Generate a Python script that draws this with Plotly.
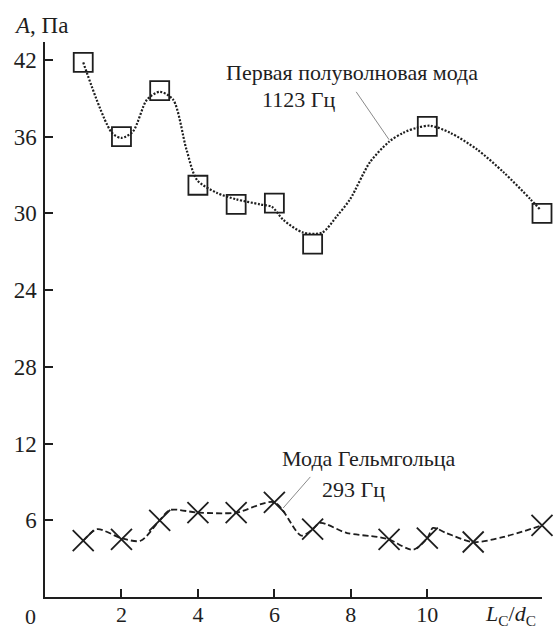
import plotly.graph_objects as go

# Measured amplitudes, first half-wave mode (1123 Hz)
half_wave_x = [1, 2, 3, 4, 5, 6, 7, 10, 13]
half_wave_a = [41.8, 36.0, 39.6, 32.2, 30.7, 30.8, 27.6, 36.8, 30.0]

# Smoothed trend drawn through the half-wave data
half_wave_curve_x = [1.0, 1.75, 2.0, 2.3, 2.67, 3.0, 3.35, 3.7, 3.98, 4.5, 5.0, 5.63, 5.94,
                     6.23, 6.75, 7.25, 7.64, 7.98, 8.5, 9.0, 9.37, 9.74, 10.08, 10.6,
                     11.3, 12.0, 12.7, 12.95]
half_wave_curve_a = [41.8, 36.3, 35.9, 36.4, 38.9, 39.5, 38.9, 35.0, 32.6, 31.6, 31.1, 30.7, 30.5,
                     29.5, 28.5, 28.5, 29.8, 31.1, 34.0, 35.6, 36.3, 36.7, 36.85, 36.3,
                     35.0, 33.2, 31.1, 30.3]

# Measured amplitudes, Helmholtz mode (293 Hz)
helm_x = [1, 2, 3, 4, 5, 6, 7, 9, 10, 11.2, 13]
helm_a = [4.4, 4.5, 6.0, 6.6, 6.6, 7.4, 5.3, 4.5, 4.6, 4.3, 5.6]

# Smoothed trend drawn through the Helmholtz data
helm_curve_x = [1.0, 1.36, 2.0, 2.5, 3.0, 3.27, 4.0, 5.0, 6.0, 6.7, 7.0, 7.2, 7.9, 8.7,
                9.0, 9.63, 10.0, 10.15, 10.5, 11.2, 12.0, 13.0]
helm_curve_a = [4.4, 5.3, 4.6, 4.4, 6.0, 6.8, 6.6, 6.6, 7.4, 4.8, 5.3, 5.8, 5.0, 4.7,
                4.5, 3.7, 4.6, 5.4, 5.0, 4.3, 4.7, 5.6]

y_tick_vals = [6, 12, 18, 24, 30, 36, 42]
y_tick_text = ["6", "12", "28", "24", "30", "36", "42"]
x_tick_vals = [2, 4, 6, 8, 10]
x_tick_text = ["2", "4", "6", "8", "10"]

INK = "#1e1e1e"
SERIF = "Liberation Serif"

W, H = 557, 629
ML, MR, MT, MB = 45, 15, 42, 32


def px_to_paper(px, py):
    return (px - ML) / (W - ML - MR), (H - MB - py) / (H - MT - MB)


fig = go.Figure()

fig.add_trace(go.Scatter(
    x=half_wave_curve_x, y=half_wave_curve_a, mode="lines",
    line=dict(color=INK, width=2.2, dash="2px,1.6px", shape="spline", smoothing=0.8),
    hoverinfo="skip", showlegend=False, cliponaxis=False))
fig.add_trace(go.Scatter(
    x=half_wave_x, y=half_wave_a, mode="markers",
    marker=dict(symbol="square-open", size=19, color=INK, line=dict(width=1.8, color=INK)),
    showlegend=False, cliponaxis=False))

fig.add_trace(go.Scatter(
    x=helm_curve_x, y=helm_curve_a, mode="lines",
    line=dict(color=INK, width=1.8, dash="6px,3px", shape="spline", smoothing=0.8),
    hoverinfo="skip", showlegend=False, cliponaxis=False))
fig.add_trace(go.Scatter(
    x=helm_x, y=helm_a, mode="markers",
    marker=dict(symbol="x-thin-open", size=21, color=INK, line=dict(width=1.8, color=INK)),
    showlegend=False, cliponaxis=False))

# Leader lines from labels to curves
fig.add_shape(type="line", x0=8.14, y0=39.5, x1=9.0, y1=35.76,
              line=dict(color="#8a8a8a", width=1))
fig.add_shape(type="line", x0=6.94, y0=9.39, x1=6.23, y1=6.96,
              line=dict(color="#8a8a8a", width=1))

label_font = dict(family=SERIF, size=22, color=INK)
fig.add_annotation(text="Первая полуволновая мода", x=8.03, y=41.0, xref="x", yref="y",
                   showarrow=False, font=label_font)
fig.add_annotation(text="1123 Гц", x=6.64, y=38.9, xref="x", yref="y",
                   showarrow=False, font=label_font)
fig.add_annotation(text="Мода Гельмгольца", x=8.47, y=10.8, xref="x", yref="y",
                   showarrow=False, font=label_font)
fig.add_annotation(text="293 Гц", x=8.08, y=8.4, xref="x", yref="y",
                   showarrow=False, font=label_font)

axis_font = dict(family=SERIF, size=23, color=INK)
ax, ay = px_to_paper(12, 25)
fig.add_annotation(text="<i>A</i>, Па", x=ax, y=ay, xref="paper", yref="paper",
                   showarrow=False, font=axis_font, xanchor="left", yanchor="middle")
lx, ly = px_to_paper(510, 615)
fig.add_annotation(text="<i>L</i><sub>C</sub>/<i>d</i><sub>C</sub>", x=lx, y=ly,
                   xref="paper", yref="paper",
                   showarrow=False, font=dict(family=SERIF, size=22, color=INK),
                   xanchor="center", yanchor="middle")
zx, zy = px_to_paper(30, 616)
fig.add_annotation(text="0", x=zx, y=zy, xref="paper", yref="paper",
                   showarrow=False, font=dict(family=SERIF, size=22, color=INK),
                   xanchor="center", yanchor="middle")

fig.update_layout(
    width=W, height=H,
    margin=dict(l=ML, r=MR, t=MT, b=MB, autoexpand=False),
    paper_bgcolor="white", plot_bgcolor="white",
    showlegend=False,
    font=dict(family=SERIF, color=INK),
    xaxis=dict(range=[0, 13.0], tickvals=x_tick_vals, ticktext=x_tick_text,
               showgrid=False, zeroline=False, showline=True, linecolor=INK, linewidth=1.5,
               ticks="inside", ticklen=8, tickwidth=1.5, tickcolor=INK, automargin=False,
               tickfont=dict(family=SERIF, size=22, color=INK), ticklabelstandoff=-3),
    yaxis=dict(range=[0, 43.4], tickvals=y_tick_vals, ticktext=y_tick_text,
               showgrid=False, zeroline=False, showline=True, linecolor=INK, linewidth=1.5,
               ticks="inside", ticklen=8, tickwidth=1.5, tickcolor=INK, automargin=False,
               tickfont=axis_font, ticklabelstandoff=2),
)

fig.write_html("out.html")
